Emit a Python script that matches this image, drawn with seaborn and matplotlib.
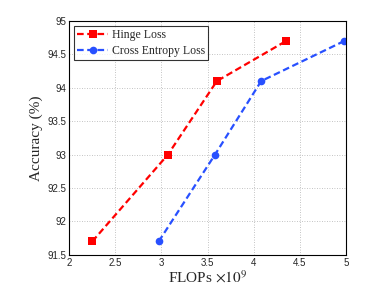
import pandas as pd
import seaborn as sns
import matplotlib.pyplot as plt

hinge_flops = [2.25, 3.07, 3.60, 4.35]
hinge_acc = [91.7, 93.0, 94.1, 94.7]
ce_flops = [2.97, 3.58, 4.08, 4.98]
ce_acc = [91.7, 93.0, 94.1, 94.7]
series_names = ["Hinge Loss", "Cross Entropy Loss"]

df = pd.concat([
    pd.DataFrame({"flops": hinge_flops, "acc": hinge_acc, "loss": series_names[0]}),
    pd.DataFrame({"flops": ce_flops, "acc": ce_acc, "loss": series_names[1]}),
])

sns.set_style("white")
plt.rcParams["font.family"] = ["Liberation Sans", "DejaVu Sans"]
plt.rcParams["mathtext.fontset"] = "stix"

fig, ax = plt.subplots(figsize=(3.82, 2.87), dpi=100)
fig.subplots_adjust(left=0.181, right=0.906, top=0.927, bottom=0.112)

sns.lineplot(
    data=df, x="flops", y="acc", hue="loss", style="loss",
    palette={series_names[0]: "#ff0000", series_names[1]: "#2850ff"},
    markers={series_names[0]: "s", series_names[1]: "o"},
    dashes={series_names[0]: (3, 1.6), series_names[1]: (3, 1.6)},
    markersize=5.5, markeredgewidth=0, linewidth=1.6, ax=ax,
)

ax.set_xlim(2, 5)
ax.set_ylim(91.5, 95)
ax.set_xticks([2, 2.5, 3, 3.5, 4, 4.5, 5])
ax.set_xticklabels(["2", "2.5", "3", "3.5", "4", "4.5", "5"])
ax.set_yticks([91.5, 92, 92.5, 93, 93.5, 94, 94.5, 95])
ax.set_yticklabels(["91.5", "92", "92.5", "93", "93.5", "94", "94.5", "95"])
ax.tick_params(direction="in", length=2.5, width=0.6, labelsize=7, pad=2)
ax.grid(True, linestyle=(0, (1, 2)), color="#b0b0b0", linewidth=0.6)
for sp in ax.spines.values():
    sp.set_color("black")
    sp.set_linewidth(0.8)

ax.set_xlabel(r"FLOPs $\times 10^9$", family="Liberation Serif", fontsize=11, labelpad=1)
ax.set_ylabel("Accuracy (%)", family="Liberation Serif", fontsize=11, labelpad=3)

leg = ax.legend(loc="upper left", frameon=True, fancybox=False, fontsize=8.5,
                prop={"family": "Liberation Serif", "size": 8.5},
                borderaxespad=0.4, handlelength=2.6, labelspacing=0.3,
                borderpad=0.3, handletextpad=0.3)
leg.get_frame().set_edgecolor("black")
leg.get_frame().set_linewidth(0.8)

plt.savefig("out.png", dpi=100)
